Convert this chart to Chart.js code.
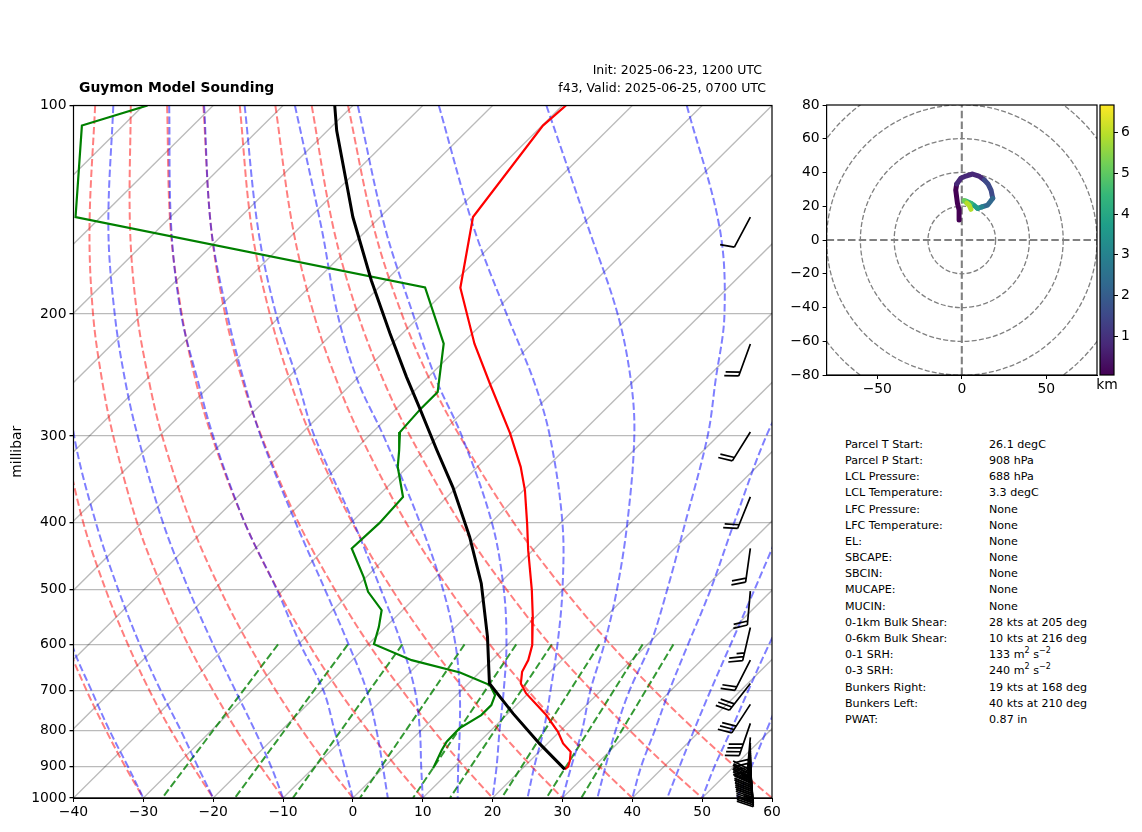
<!DOCTYPE html>
<html>
<head>
<meta charset="utf-8">
<title>Guymon Model Sounding</title>
<script src="https://cdn.jsdelivr.net/npm/chart.js@4"></script>
<style>
  html, body { margin: 0; padding: 0; background: #fff; }
  body { width: 1142px; height: 832px; position: relative; overflow: hidden; font-family: "DejaVu Sans", sans-serif; color: #000; }
  canvas { position: absolute; }
  #skew { left: 0; top: 0; }
  #hodo { left: 770px; top: 90px; }
  #cbar { left: 1090px; top: 90px; }
  .txt { position: absolute; white-space: nowrap; }
  .stat { font-size: 11.1px; line-height: 16px; }
  sup { font-size: 8px; line-height: 0; }
</style>
</head>
<body>
<canvas id="skew" width="790" height="832"></canvas>
<canvas id="hodo" width="330" height="320"></canvas>
<canvas id="cbar" width="52" height="320"></canvas>
<div class="txt" style="left:79px;top:79px;font-size:13.9px;font-weight:bold">Guymon Model Sounding</div>
<div class="txt" style="right:380px;top:62px;font-size:12.5px">Init: 2025-06-23, 1200 UTC</div>
<div class="txt" style="right:376px;top:80px;font-size:12.5px">f43, Valid: 2025-06-25, 0700 UTC</div>
<script>
// sounding profiles, temperature in degC at pressure in hPa
var tempP = [100,106.9,144.9,183.3,220.8,253.5,297.2,332.5,359.5,401.4,438.6,501,547.6,601.5,632.3,657.3,683.2,706.3,759,802.4,833.9,857.5,881.5,901.2,909.1]
var tempC = [-69.5,-69.9,-66.7,-58.3,-48.2,-39.9,-30.2,-23.8,-19.8,-14.7,-10.7,-4.4,-0.4,3.6,5.2,6.0,7.5,9.7,15.7,19.8,22.2,24.5,25.6,26.3,26.2]
var dewP = [100,106.9,144.9,183.1,220.8,259.2,274,296.2,314.6,332.5,367.5,401,436.2,479.4,503.8,535.6,566,599.6,632.3,658.7,687,710.3,734.2,759,793.5,829.4,852.6,906.2]
var dewC = [-129.4,-135.9,-123.6,-63.4,-52.6,-46.5,-46.5,-46.1,-43.6,-41.4,-36.3,-35.9,-36.2,-30.4,-27.6,-23,-21,-19.2,-11.5,-2.8,3.3,5.5,6.4,6.4,5.2,5.3,5.8,7.2]
var parcelP = [100,108.7,129.7,144.9,178.9,213.3,246.7,273.7,314.6,355.6,419.6,490,585.2,683.2,754.8,833.9,909.1]
var parcelC = [-102.6,-98.7,-89.6,-83.9,-72.1,-61.8,-53.1,-46.7,-38.2,-30.6,-21,-12.6,-4,3,10.7,18.8,26.2]

// background lines
var pressureTicks = [100,200,300,400,500,600,700,800,900,1000]
var tempTicks = [-40,-30,-20,-10,0,10,20,30,40,50,60]
var isotherms = [-130,-120,-110,-100,-90,-80,-70,-60,-50,-40,-30,-20,-10,0,10,20,30,40,50]
var guideP = [100,150,200,250,300,400,500,600,700,800,900,1000]
var dryAdiabats = [
  [null,null,null,null,null,-86.1,-73.7,-63.1,-53.6,-45,-37.2,-30],
  [null,null,null,-102.9,-93.7,-78.4,-65.5,-54.4,-44.6,-35.7,-27.5,-20],
  [-136.9,-120.1,-107.1,-96.1,-86.6,-70.7,-57.3,-45.8,-35.5,-26.3,-17.8,-10],
  [-131.8,-114.3,-100.8,-89.4,-79.6,-63,-49.1,-37.1,-26.5,-16.9,-8.1,0],
  [-126.6,-108.5,-94.4,-82.7,-72.5,-55.3,-40.9,-28.5,-17.5,-7.5,1.6,10],
  [-121.4,-102.7,-88.2,-76,-65.4,-47.6,-32.7,-19.9,-8.4,1.9,11.3,20],
  [-116.2,-96.9,-81.8,-69.2,-58.3,-39.9,-24.5,-11.2,0.6,11.3,21,30],
  [-111.1,-91,-75.5,-62.5,-51.2,-32.2,-16.3,-2.6,9.6,20.6,30.7,40],
  [-105.9,-85.2,-69.2,-55.8,-44.1,-24.5,-8.1,6,18.7,30,40.4,50],
  [-100.7,-79.4,-62.9,-49.1,-37,-16.8,0.1,14.7,27.7,39.4,50.1,60]
]
var moistAdiabats = [
  [null,null,null,null,null,null,-72,-62.4,-52.9,-44.5,-36.8,-30],
  [null,null,-112,null,-92.2,-76.6,-63.7,-52.7,-43,-34.3,-26.8,-20],
  [-134.3,-117.4,-104,-92.8,-83.1,-67,-53.6,-42.2,-32.3,-23.7,-16.3,-10],
  [-126.3,-108.4,-94.5,-82.4,-72.3,-55.3,-41,-29.7,-19.7,-12.3,-5.8,0],
  [-121.3,-102.7,-87.9,-75.8,-65.5,-48,-34.1,-22.8,-13.5,-6.3,-0.3,5],
  [-115.5,-96,-80.9,-68.1,-57.8,-39.7,-26.1,-15.2,-6.6,-0.1,5.2,10],
  [-108.3,-86.9,-72.1,-59.5,-47.9,-30.2,-17.2,-7.5,-0.2,5.6,10.5,15],
  [-99.3,-77.8,-61.3,-48.2,-36.7,-19.9,-8.5,-0.2,6.1,11.3,16,20],
  [-87.7,-65.1,-47.9,-34.3,-24.1,-9.8,-0.1,7.1,12.8,17.6,21.4,25],
  [-72.3,-48.7,-32,-20.4,-12,-0.5,7.7,13.8,18.5,23.1,26.7,30],
  [-52.2,-29.9,-16.7,-8.3,-1.5,7.8,14.9,20.4,24.1,27.9,31.6,35],
  [null,null,null,3,6.9,14.8,21.1,25.8,29.8,33.5,36.7,40],
  [null,null,null,null,null,21.8,27.4,31.9,35.7,39.1,42.2,45],
  [null,null,null,null,null,null,33.4,37.4,41.1,44.4,47.2,50],
  [null,null,null,null,null,null,null,42.4,46.1,49.5,52.5,55]
]
var mixingP = [600,1000]
var mixingTop = [-32.9,-22.9,-15.1,-6.2,1.2,6.3,13.1,19.3,23.7]
var mixingBottom = [-27.3,-16.9,-8.6,1,8.6,13.9,21.3,27.7,32.7]

// wind barbs
var barbP = [144.9,221,296.2,367.5,436.2,502.6,567.2,632.3,683.2,732.5,780.3,817.5,833,840,847,855.5,861,867,873,879,885,891,897,903,908,914,920]
var barbDir = [208,200,212,202,188,185,193,207,218,213,199,185,184,183,182,180,180,179,178,178,177,177,176,176,175,175,175]
var barbKts = [10,20,20,20,20,20,25,20,30,30,40,40,30,30,30,25,25,25,20,20,20,20,20,15,15,15,15]

// hodograph
var hodoU = [-1.6,-1.6,-2.6,-3.6,-3,-0.6,2.4,6.4,10.1,13.3,15.5,17.3,18.3,16.7,15.3,11.9,9.3,7.1,5.4,2.4,1.4,3,4.3,5.4]
var hodoV = [11.9,17.8,21.9,29.6,33.2,36.6,37.9,39.1,37.9,35.6,33.2,29.6,24.7,22.5,20.7,19.6,18.8,20.7,21.7,23.1,23.3,21.9,20.7,18.2]
var hodoKm = [0.01,0.1,0.2,0.35,0.45,0.6,0.7,0.85,1,1.2,1.35,1.6,2,2.3,2.6,3,3.4,3.9,4.3,4.8,5.2,5.6,6,6.6]
var hodoRings = [20,40,60,80,100]
var hodoTicksX = [-50,0,50]
var hodoTicksY = [-80,-60,-40,-20,0,20,40,60,80]
var kmTicks = [1,2,3,4,5,6]
var kmRange = [0.05,6.68]
var viridis = ['#440154','#482878','#3e4989','#31688e','#26828e','#1f9e89','#35b779','#6ece58','#b5de2b','#fde725']

// parcel text
var statLabels = ['Parcel T Start:','Parcel P Start:','LCL Pressure:','LCL Temperature:','LFC Pressure:','LFC Temperature:','EL:','SBCAPE:','SBCIN:','MUCAPE:','MUCIN:','0-1km Bulk Shear:','0-6km Bulk Shear:','0-1 SRH:','0-3 SRH:','Bunkers Right:','Bunkers Left:','PWAT:']
var statValues = ['26.1 degC','908 hPa','688 hPa','3.3 degC','None','None','None','None','None','None','None','28 kts at 205 deg','10 kts at 216 deg','133 m<sup>2</sup> s<sup>\u22122</sup>','240 m<sup>2</sup> s<sup>\u22122</sup>','19 kts at 168 deg','40 kts at 210 deg','0.87 in']

var font = {family: '"DejaVu Sans"', size: 13.9}
Chart.defaults.color = '#000'
Chart.defaults.animation = false
Chart.defaults.font.family = font.family

// x position on the skewed axis, one decade of pressure shifts 100 degC
function skewX(t, p){ return t + 100 * Math.log10(1000 / p) }
function minus(v){ return String(v).replace('-', '\u2212') }

function profile(ps, ts, color, width){
  return {
    data: ps.map(function(p, i){ return {x: skewX(ts[i], p), y: p} }),
    showLine: true, pointRadius: 0, borderColor: color, borderWidth: width, tension: 0, clip: 0
  }
}
function guide(row, color){
  var pts = []
  row.forEach(function(t, i){
    if(t !== null) pts.push({x: skewX(t, guideP[i]), y: guideP[i]})
  })
  return {
    data: pts, showLine: true, pointRadius: 0, borderColor: color, borderWidth: 2,
    borderDash: [7.5, 3.2], tension: 0.35, clip: 0
  }
}

var datasets = [
  profile(parcelP, parcelC, '#000', 3),
  profile(tempP, tempC, '#f00', 2.2),
  profile(dewP, dewC, '#008000', 2.2)
]
moistAdiabats.forEach(function(r){ datasets.push(guide(r, 'rgba(0,0,255,0.5)')) })
dryAdiabats.forEach(function(r){ datasets.push(guide(r, 'rgba(255,0,0,0.5)')) })
mixingTop.forEach(function(t, i){
  var d = guide([], 'rgba(0,128,0,0.8)')
  d.data = [{x: skewX(t, mixingP[0]), y: mixingP[0]}, {x: skewX(mixingBottom[i], mixingP[1]), y: mixingP[1]}]
  datasets.push(d)
})
isotherms.forEach(function(t){
  datasets.push({
    data: [{x: skewX(t, 1000), y: 1000}, {x: skewX(t, 100), y: 100}],
    showLine: true, pointRadius: 0, borderColor: 'rgba(0,0,0,0.27)', borderWidth: 1.3, clip: 0
  })
})

var framePlugin = {
  id: 'frame',
  afterDraw: function(chart){
    var a = chart.chartArea, c = chart.ctx
    c.save()
    c.strokeStyle = '#000'
    c.lineWidth = 1.2
    c.strokeRect(a.left, a.top, a.right - a.left, a.bottom - a.top)
    c.restore()
  }
}

var barbPlugin = {
  id: 'barbs',
  afterDatasetsDraw: function(chart){
    var c = chart.ctx, yS = chart.scales.y, xS = chart.scales.x
    var tipX = xS.getPixelForValue(56.9)
    c.save()
    c.strokeStyle = '#000'
    c.lineWidth = 1.7
    barbP.forEach(function(p, i){
      var tipY = yS.getPixelForValue(p)
      var a = (barbDir[i] - 180) * Math.PI / 180
      var ux = -Math.sin(a), uy = Math.cos(a)
      var ex = tipX + ux * 34, ey = tipY + uy * 34
      c.beginPath()
      c.moveTo(tipX, tipY)
      c.lineTo(ex, ey)
      // feathers lean further back and run longer in the crowded low levels
      var low = p > 825
      var b = low ? a + 42 * Math.PI / 180 : a
      var len = low ? 1.2 : 1
      var vx = -Math.sin(b), vy = Math.cos(b)
      var nx = -vy, ny = vx
      var left = barbKts[i], k = 0
      while(left >= 5){
        var s = (left >= 10 ? 1 : 0.55) * len
        var bx = ex - ux * k * 4, by = ey - uy * k * 4
        c.moveTo(bx, by)
        c.lineTo(bx + (nx * 13.7 + vx * 4.6) * s, by + (ny * 13.7 + vy * 4.6) * s)
        left -= left >= 10 ? 10 : 5
        k++
      }
      c.stroke()
    })
    c.restore()
  }
}

new Chart(document.getElementById('skew'), {
  type: 'scatter',
  data: {datasets: datasets},
  options: {
    responsive: false,
    devicePixelRatio: 1,
    layout: {padding: {top: 105.5, right: 18, left: 0, bottom: 0}},
    plugins: {legend: {display: false}, tooltip: {enabled: false}},
    scales: {
      x: {
        type: 'linear', min: -40, max: 60,
        afterBuildTicks: function(s){ s.ticks = tempTicks.map(function(v){ return {value: v} }) },
        afterFit: function(s){ s.height = 34 },
        ticks: {font: font, color: '#000', padding: 2, maxRotation: 0, autoSkip: false, callback: function(v){ return minus(v) }},
        grid: {drawOnChartArea: false, tickColor: '#000', tickLength: 4},
        border: {color: '#000'}
      },
      y: {
        type: 'logarithmic', reverse: true, min: 100, max: 1000,
        afterBuildTicks: function(s){ s.ticks = pressureTicks.map(function(v){ return {value: v} }) },
        afterFit: function(s){ s.width = 73.5 },
        ticks: {font: font, color: '#000', padding: 3, autoSkip: false, callback: function(v){ return String(v) }},
        grid: {color: 'rgba(0,0,0,0.27)', lineWidth: 1.3, tickColor: '#000', tickLength: 4},
        border: {color: '#000'},
        title: {display: true, text: 'millibar', font: font, color: '#000', padding: {top: 9, bottom: 0}}
      }
    }
  },
  plugins: [framePlugin, barbPlugin]
})

function kmColor(km){
  var t = (km - kmRange[0]) / (kmRange[1] - kmRange[0])
  var i = Math.max(0, Math.min(viridis.length - 1, Math.round(t * (viridis.length - 1))))
  return viridis[i]
}

var ringPlugin = {
  id: 'rings',
  beforeDatasetsDraw: function(chart){
    var c = chart.ctx, a = chart.chartArea, xS = chart.scales.x, yS = chart.scales.y
    var cx = xS.getPixelForValue(0), cy = yS.getPixelForValue(0)
    c.save()
    c.beginPath()
    c.rect(a.left, a.top, a.right - a.left, a.bottom - a.top)
    c.clip()
    c.strokeStyle = '#808080'
    c.lineWidth = 1.3
    c.setLineDash([5, 2.2])
    hodoRings.forEach(function(r){
      c.beginPath()
      c.arc(cx, cy, xS.getPixelForValue(r) - cx, 0, Math.PI * 2)
      c.stroke()
    })
    c.restore()
  }
}

new Chart(document.getElementById('hodo'), {
  type: 'scatter',
  data: {datasets: [
    {
      data: hodoU.map(function(u, i){ return {x: u, y: hodoV[i]} }),
      showLine: true, borderWidth: 5, borderCapStyle: 'round', borderJoinStyle: 'round', pointRadius: 0,
      borderColor: viridis[0],
      segment: {borderColor: function(ctx){ return kmColor(hodoKm[ctx.p0DataIndex]) }}
    },
    {data: [{x: -80, y: 0}, {x: 80, y: 0}], showLine: true, pointRadius: 0, borderColor: '#808080', borderWidth: 2.1, borderDash: [7.5, 3.2]},
    {data: [{x: 0, y: -80}, {x: 0, y: 80}], showLine: true, pointRadius: 0, borderColor: '#808080', borderWidth: 2.1, borderDash: [7.5, 3.2]}
  ]},
  options: {
    responsive: false,
    devicePixelRatio: 1,
    layout: {padding: {top: 15, right: 3, left: 0, bottom: 0}},
    plugins: {legend: {display: false}, tooltip: {enabled: false}},
    scales: {
      x: {
        type: 'linear', min: -80, max: 80,
        afterBuildTicks: function(s){ s.ticks = hodoTicksX.map(function(v){ return {value: v} }) },
        afterFit: function(s){ s.height = 35 },
        ticks: {font: font, color: '#000', padding: 2, maxRotation: 0, autoSkip: false, callback: function(v){ return minus(v) }},
        grid: {drawOnChartArea: false, tickColor: '#000', tickLength: 4},
        border: {color: '#000'}
      },
      y: {
        type: 'linear', min: -80, max: 80,
        afterBuildTicks: function(s){ s.ticks = hodoTicksY.map(function(v){ return {value: v} }) },
        afterFit: function(s){ s.width = 56.6 },
        ticks: {font: font, color: '#000', padding: 3, autoSkip: false, callback: function(v){ return minus(v) }},
        grid: {drawOnChartArea: false, tickColor: '#000', tickLength: 4},
        border: {color: '#000'}
      }
    }
  },
  plugins: [framePlugin, ringPlugin]
})

new Chart(document.getElementById('cbar'), {
  type: 'bar',
  data: {labels: ['km'], datasets: [{
    data: [kmRange],
    barPercentage: 1, categoryPercentage: 1, borderSkipped: false,
    backgroundColor: function(ctx){
      var a = ctx.chart.chartArea
      if(!a) return viridis[0]
      var g = ctx.chart.ctx.createLinearGradient(0, a.bottom, 0, a.top)
      viridis.forEach(function(col, i){ g.addColorStop(i / (viridis.length - 1), col) })
      return g
    }
  }]},
  options: {
    responsive: false,
    devicePixelRatio: 1,
    layout: {padding: {top: 15, left: 10, right: 0, bottom: 0}},
    plugins: {legend: {display: false}, tooltip: {enabled: false}},
    scales: {
      x: {
        afterFit: function(s){ s.height = 35 },
        ticks: {font: font, color: '#000', padding: -6},
        grid: {display: false},
        border: {display: false}
      },
      y: {
        position: 'right', min: kmRange[0], max: kmRange[1],
        afterBuildTicks: function(s){ s.ticks = kmTicks.map(function(v){ return {value: v} }) },
        afterFit: function(s){ s.width = 28 },
        ticks: {font: font, color: '#000', padding: 3, autoSkip: false},
        grid: {drawOnChartArea: false, tickColor: '#000', tickLength: 4},
        border: {display: false}
      }
    }
  },
  plugins: [framePlugin]
})

statLabels.forEach(function(label, i){
  var top = 436.8 + i * 16.18
  var l = document.createElement('div')
  l.className = 'txt stat'
  l.style.left = '845px'
  l.style.top = top + 'px'
  l.textContent = label
  document.body.appendChild(l)
  var v = document.createElement('div')
  v.className = 'txt stat'
  v.style.left = '989px'
  v.style.top = top + 'px'
  v.innerHTML = statValues[i]
  document.body.appendChild(v)
})
</script>
</body>
</html>
